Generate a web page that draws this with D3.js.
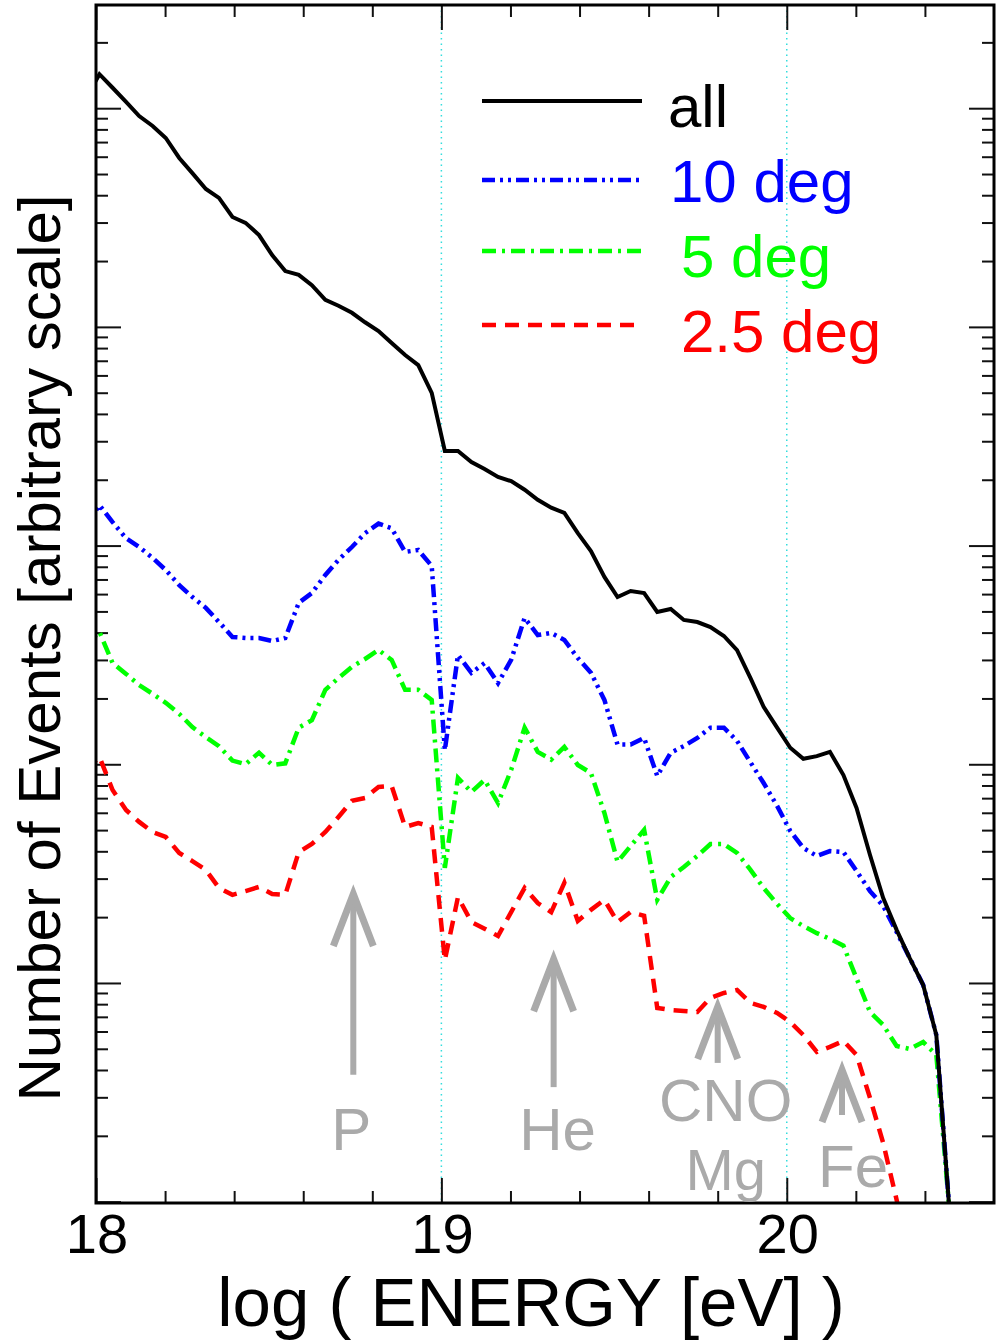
<!DOCTYPE html>
<html><head><meta charset="utf-8">
<script src="https://cdn.jsdelivr.net/npm/d3@7"></script>
<style>body{margin:0;background:#fff} svg{display:block}</style>
</head><body>
<svg id="chart" width="997" height="1342"></svg>
<script>
// log10(E/eV) bin centres
const energy = [17.972, 18.010, 18.048, 18.087, 18.125, 18.164, 18.202, 18.241, 18.279, 18.318, 18.356,
  18.395, 18.433, 18.472, 18.510, 18.548, 18.587, 18.625, 18.664, 18.702, 18.741, 18.779, 18.818,
  18.856, 18.895, 18.933, 18.972, 19.010, 19.048, 19.087, 19.125, 19.164, 19.202, 19.241, 19.279,
  19.318, 19.356, 19.395, 19.433, 19.472, 19.510, 19.548, 19.587, 19.625, 19.664, 19.702, 19.741,
  19.779, 19.818, 19.856, 19.895, 19.933, 19.972, 20.010, 20.048, 20.087, 20.125, 20.164, 20.202,
  20.241, 20.279, 20.318, 20.356, 20.395, 20.433, 20.472];

const allEvents = [11200, 14300, 12400, 10700, 9210, 8290, 7310, 5920, 5050, 4270, 3890, 3180, 2990,
  2630, 2130, 1800, 1730, 1550, 1330, 1250, 1160, 1050, 958, 844, 744, 669, 499, 271, 271, 241, 224,
  206, 197, 180, 162, 149, 141, 114, 94.5, 71.9, 58.2, 62.0, 60.7, 49.7, 51.3, 45.7, 44.7, 42.4, 38.6,
  33.3, 24.8, 18.3, 14.7, 11.9, 10.6, 10.9, 11.4, 8.93, 6.31, 3.85, 2.45, 1.75, 1.30, 0.979, 0.578, 0.087];

const deg10 = [124, 153, 128, 108, 98.5, 87.8, 77.3, 66.0, 58.2, 51.9, 44.7, 38.2, 37.8, 37.8, 36.6,
  37.8, 54.7, 60.7, 73.4, 86.0, 98.5, 114, 126, 120, 93.5, 95.5, 80.7, 11.6, 31.6, 26.2, 29.0, 23.5,
  30.0, 46.7, 39.0, 39.9, 37.0, 30.6, 26.2, 19.7, 12.3, 12.3, 13.2, 8.84, 11.3, 12.1, 13.2, 14.7, 14.7,
  12.8, 10.2, 8.21, 6.45, 4.96, 4.14, 3.81, 4.01, 3.97, 3.25, 2.63, 2.25, 1.71, 1.30, 0.979, 0.578, 0.087];

const deg5 = [35.1, 40.3, 29.0, 25.9, 23.0, 21.0, 19.1, 17.0, 14.8, 13.3, 12.1, 10.4, 10.0, 11.3, 9.93,
  10.1, 14.7, 15.9, 21.9, 24.8, 27.9, 30.3, 33.3, 30.0, 21.9, 21.9, 19.7, 3.36, 8.66, 7.47, 8.48, 6.65,
  9.42, 14.7, 11.4, 10.5, 12.0, 9.93, 9.12, 5.99, 3.58, 4.23, 5.01, 2.40, 3.05, 3.39, 3.81, 4.32, 4.32,
  3.93, 3.29, 2.72, 2.30, 1.98, 1.82, 1.69, 1.59, 1.48, 1.05, 0.737, 0.643, 0.515, 0.499, 0.537, 0.469, 0.087];

const deg2p5 = [9.42, 10.8, 7.63, 6.18, 5.45, 4.90, 4.65, 3.93, 3.61, 3.29, 2.72, 2.53, 2.63, 2.75, 2.55,
  2.53, 3.97, 4.32, 4.90, 5.74, 6.80, 7.01, 7.88, 7.96, 5.17, 5.39, 5.17, 1.27, 2.47, 1.90, 1.77, 1.64,
  2.11, 2.72, 2.32, 2.11, 2.87, 1.92, 2.16, 2.40, 1.90, 2.11, 2.03, 0.769, 0.752, 0.745, 0.737, 0.854,
  0.900, 0.929, 0.810, 0.777, 0.729, 0.663, 0.578, 0.484, 0.510, 0.543, 0.469, 0.298, 0.186, 0.102, 0.054];

const seriesNames = ["all", "10 deg", "5 deg", "2.5 deg"];
const xMajorTicks = [18, 19, 20];
const xTickLabels = ["18", "19", "20"];
const xMinorTicks = [18.2, 18.4, 18.6, 18.8, 19.2, 19.4, 19.6, 19.8, 20.2, 20.4];
const gridEnergies = [19, 20];

// composition markers
const markNames = [["P"], ["He"], ["CNO", "Mg"], ["Fe"]];
const markEnergy = [18.745, 19.325, 19.80, 20.16];
const markTip = [2.66, 1.34, 0.81, 0.417];
const markTail = [0.38, 0.334, 0.431, 0.249];

const svg = d3.select("#chart");
const L = 96, R = 994, T = 5, B = 1203;
const x = d3.scaleLinear().domain([18, 20.6]).range([L, R]);
const y = d3.scaleLog().domain([0.0986, 29640]).range([B, T]);

const FONT = "'Liberation Sans', Arial, Helvetica, sans-serif";

svg.append("defs").append("clipPath").attr("id", "clip")
  .append("rect").attr("x", L).attr("y", T).attr("width", R - L).attr("height", B - T);

// dotted grid lines
svg.append("g").selectAll("line").data(gridEnergies).join("line")
  .attr("x1", d => x(d)).attr("x2", d => x(d)).attr("y1", T).attr("y2", B)
  .attr("stroke", "#33dddd").attr("stroke-width", 1.5).attr("stroke-dasharray", "1.5,4");

// y ticks
const yMajor = [], yMinor = [];
for (let e = -2; e <= 5; e++) for (let m = 1; m <= 9; m++) {
  const v = m * Math.pow(10, e);
  if (v >= y.domain()[0] && v <= y.domain()[1]) (m === 1 ? yMajor : yMinor).push(v);
}
function styleAxis(g) {
  g.select(".domain").remove();
  g.selectAll(".tick line").attr("stroke", "#111").attr("stroke-width", 2);
  g.selectAll(".tick text").remove();
}
svg.append("g").attr("transform", `translate(${L},0)`).call(d3.axisLeft(y).tickValues(yMajor).tickSizeInner(-25).tickSizeOuter(0)).call(styleAxis);
svg.append("g").attr("transform", `translate(${L},0)`).call(d3.axisLeft(y).tickValues(yMinor).tickSizeInner(-12).tickSizeOuter(0)).call(styleAxis);
svg.append("g").attr("transform", `translate(${R},0)`).call(d3.axisRight(y).tickValues(yMajor).tickSizeInner(-25).tickSizeOuter(0)).call(styleAxis);
svg.append("g").attr("transform", `translate(${R},0)`).call(d3.axisRight(y).tickValues(yMinor).tickSizeInner(-12).tickSizeOuter(0)).call(styleAxis);
// x ticks
svg.append("g").attr("transform", `translate(0,${B})`).call(d3.axisBottom(x).tickValues(xMajorTicks).tickSizeInner(-25).tickSizeOuter(0)).call(styleAxis);
svg.append("g").attr("transform", `translate(0,${B})`).call(d3.axisBottom(x).tickValues(xMinorTicks).tickSizeInner(-12).tickSizeOuter(0)).call(styleAxis);
svg.append("g").attr("transform", `translate(0,${T})`).call(d3.axisTop(x).tickValues(xMajorTicks).tickSizeInner(-25).tickSizeOuter(0)).call(styleAxis);
svg.append("g").attr("transform", `translate(0,${T})`).call(d3.axisTop(x).tickValues(xMinorTicks).tickSizeInner(-12).tickSizeOuter(0)).call(styleAxis);

// series
const styles = [
  {color: "#000000", dash: null, width: 4},
  {color: "#0000ff", dash: "13,5,3,5,3,5", width: 4.5},
  {color: "#00ff00", dash: "14,6,3,6", width: 4.5},
  {color: "#ff0000", dash: "14,9", width: 4.5}
];
const seriesVals = [allEvents, deg10, deg5, deg2p5];
const line = d3.line().x(d => x(d[0])).y(d => y(d[1]));
const lines = svg.append("g").attr("clip-path", "url(#clip)");
[3, 2, 1, 0].forEach(i => {
  const pts = seriesVals[i].map((v, k) => [energy[k], v]);
  lines.append("path").datum(pts).attr("d", line)
    .attr("fill", "none").attr("stroke", styles[i].color)
    .attr("stroke-width", styles[i].width)
    .attr("stroke-dasharray", styles[i].dash)
    .attr("stroke-linejoin", "miter").attr("stroke-miterlimit", 6);
});

// frame
svg.append("rect").attr("x", L).attr("y", T).attr("width", R - L).attr("height", B - T)
  .attr("fill", "none").attr("stroke", "#000").attr("stroke-width", 3);

// legend
const legY = [101, 180, 251, 325];
const legTextX = [668, 670, 681, 681];
const legTextY = [127, 202, 277, 352];
const leg = svg.append("g");
seriesNames.forEach((n, i) => {
  leg.append("line").attr("x1", 482).attr("x2", 642).attr("y1", legY[i]).attr("y2", legY[i])
    .attr("stroke", styles[i].color).attr("stroke-width", styles[i].width)
    .attr("stroke-dasharray", styles[i].dash);
  leg.append("text").attr("x", legTextX[i]).attr("y", legTextY[i])
    .attr("font-family", FONT).attr("font-size", 60).attr("fill", styles[i].color).text(n);
});

// composition arrows
const grey = "#aaaaaa";
const ann = svg.append("g");
const labelDX = [-2, 4, 8, 11];
const labelBase = [[1150], [1150], [1121, 1190], [1187]];
const labelSize = [[60], [60], [60, 58], [60]];
markEnergy.forEach((e, i) => {
  const cx = x(e), yt = y(markTip[i]), yb = y(markTail[i]);
  ann.append("line").attr("x1", cx).attr("x2", cx).attr("y1", yt + 10).attr("y2", yb)
    .attr("stroke", grey).attr("stroke-width", 6);
  ann.append("path").attr("d", `M${cx - 20},${yt + 56} L${cx},${yt + 4} L${cx + 20},${yt + 56}`)
    .attr("fill", "none").attr("stroke", grey).attr("stroke-width", 7).attr("stroke-linejoin", "miter");
  markNames[i].forEach((t, j) => {
    ann.append("text").attr("x", cx + labelDX[i]).attr("y", labelBase[i][j])
      .attr("text-anchor", "middle").attr("font-family", FONT).attr("font-size", labelSize[i][j])
      .attr("fill", grey).text(t);
  });
});

// tick labels
svg.append("g").selectAll("text").data(xMajorTicks).join("text")
  .attr("x", d => x(d) + 1).attr("y", 1253).attr("text-anchor", "middle")
  .attr("font-family", FONT).attr("font-size", 56).attr("fill", "#000")
  .text((d, i) => xTickLabels[i]);

// axis titles
svg.append("text").attr("x", 531).attr("y", 1326).attr("text-anchor", "middle")
  .attr("font-family", FONT).attr("font-size", 69).attr("fill", "#000")
  .text("log ( ENERGY [eV] )");
svg.append("text").attr("transform", "translate(60,648) rotate(-90)").attr("text-anchor", "middle")
  .attr("font-family", FONT).attr("font-size", 60).attr("fill", "#000")
  .text("Number of Events [arbitrary scale]");
</script>
</body></html>
